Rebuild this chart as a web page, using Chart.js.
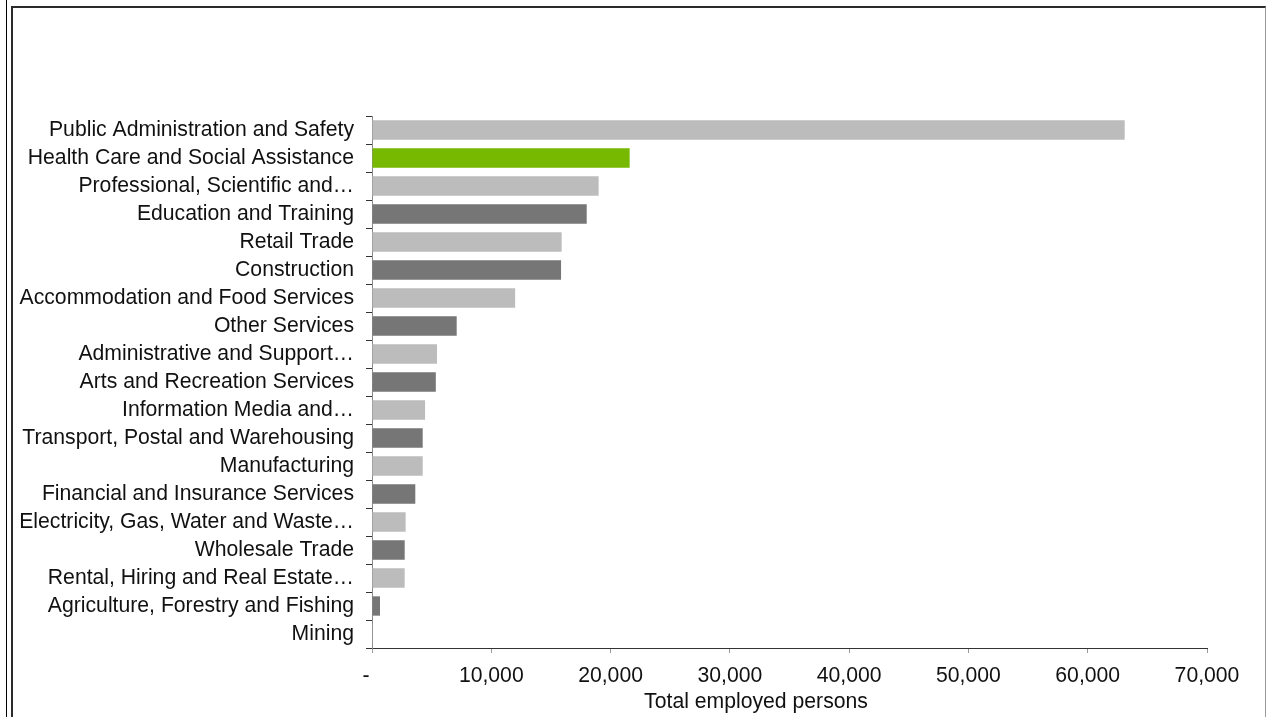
<!DOCTYPE html>
<html>
<head>
<meta charset="utf-8">
<script src="https://cdn.jsdelivr.net/npm/chart.js@4/dist/chart.umd.min.js"></script>
<style>
  html, body { margin: 0; padding: 0; background: #fff; width: 1266px; height: 717px; overflow: hidden; }
  #thin { position: absolute; left: 6px; top: 0; width: 1px; height: 717px; background: #000; }
  #frame { position: absolute; left: 11px; top: 6px; width: 1252px; height: 720px;
           border-top: 2px solid #2b2b2b; border-left: 2px solid #2b2b2b; border-right: 1px solid #9a9a9a; }
  #wrap { position: absolute; left: 0; top: 0; width: 1266px; height: 717px; }
</style>
</head>
<body>
<div id="thin"></div>
<div id="frame"></div>
<div id="wrap"><canvas id="c" width="1266" height="717"></canvas></div>
<script>
const categories = [
  "Public Administration and Safety",
  "Health Care and Social Assistance",
  "Professional, Scientific and\u2026",
  "Education and Training",
  "Retail Trade",
  "Construction",
  "Accommodation and Food Services",
  "Other Services",
  "Administrative and Support\u2026",
  "Arts and Recreation Services",
  "Information Media and\u2026",
  "Transport, Postal and Warehousing",
  "Manufacturing",
  "Financial and Insurance Services",
  "Electricity, Gas, Water and Waste\u2026",
  "Wholesale Trade",
  "Rental, Hiring and Real Estate\u2026",
  "Agriculture, Forestry and Fishing",
  "Mining"
];
const employedPersons = [63100, 21600, 19000, 18000, 15900, 15850, 12000, 7100, 5450, 5350, 4450, 4250, 4250, 3630, 2820, 2740, 2740, 670, 60];
const highlightCategory = "Health Care and Social Assistance";
const xTickValues = [0, 10000, 20000, 30000, 40000, 50000, 60000, 70000];
const xAxisTitle = "Total employed persons";

const LIGHT = "#bcbcbc", DARK = "#767676", GREEN = "#76b900";
const barColors = categories.map((c, i) => c === highlightCategory ? GREEN : (i % 2 === 0 ? LIGHT : DARK));

const FONT = "'Liberation Sans', Arial, sans-serif";
const FSIZE = 21.2;
const TEXT = "#111";

const axisTitlePlugin = {
  id: "axisTitle",
  afterDraw(chart) {
    const ctx = chart.ctx;
    ctx.save();
    ctx.font = FSIZE + "px " + FONT;
    ctx.fillStyle = TEXT;
    ctx.textAlign = "center";
    ctx.textBaseline = "middle";
    ctx.fillText(xAxisTitle, 756, 702);
    ctx.restore();
  }
};

new Chart(document.getElementById("c"), {
  type: "bar",
  data: {
    labels: categories,
    datasets: [{
      data: employedPersons,
      backgroundColor: barColors,
      borderWidth: 0,
      categoryPercentage: 1.0,
      barPercentage: 0.69
    }]
  },
  options: {
    indexAxis: "y",
    responsive: false,
    animation: false,
    layout: { padding: { left: 0, right: 59, top: 116, bottom: 0 } },
    plugins: { legend: { display: false }, tooltip: { enabled: false } },
    scales: {
      x: {
        min: 0, max: 70000,
        afterBuildTicks: (s) => { s.ticks = xTickValues.map(v => ({ value: v })); },
        afterFit: (s) => { s.height = 69; },
        border: { color: "#333", width: 1 },
        grid: { drawOnChartArea: false, drawTicks: true, tickLength: 5, color: "#999" },
        ticks: {
          font: { family: FONT, size: FSIZE }, color: TEXT, padding: 10,
          maxRotation: 0,
          callback: (v) => v === 0 ? "-  " : Number(v).toLocaleString("en-US")
        },
        title: { display: false }
      },
      y: {
        afterFit: (s) => { s.width = 372; },
        border: { color: "#8a8a8a", width: 1 },
        grid: { drawOnChartArea: false, drawTicks: true, tickLength: 6, color: "#333", offset: true },
        ticks: { font: { family: FONT, size: FSIZE }, color: TEXT, padding: 12, autoSkip: false }
      }
    }
  },
  plugins: [axisTitlePlugin]
});
</script>
</body>
</html>
